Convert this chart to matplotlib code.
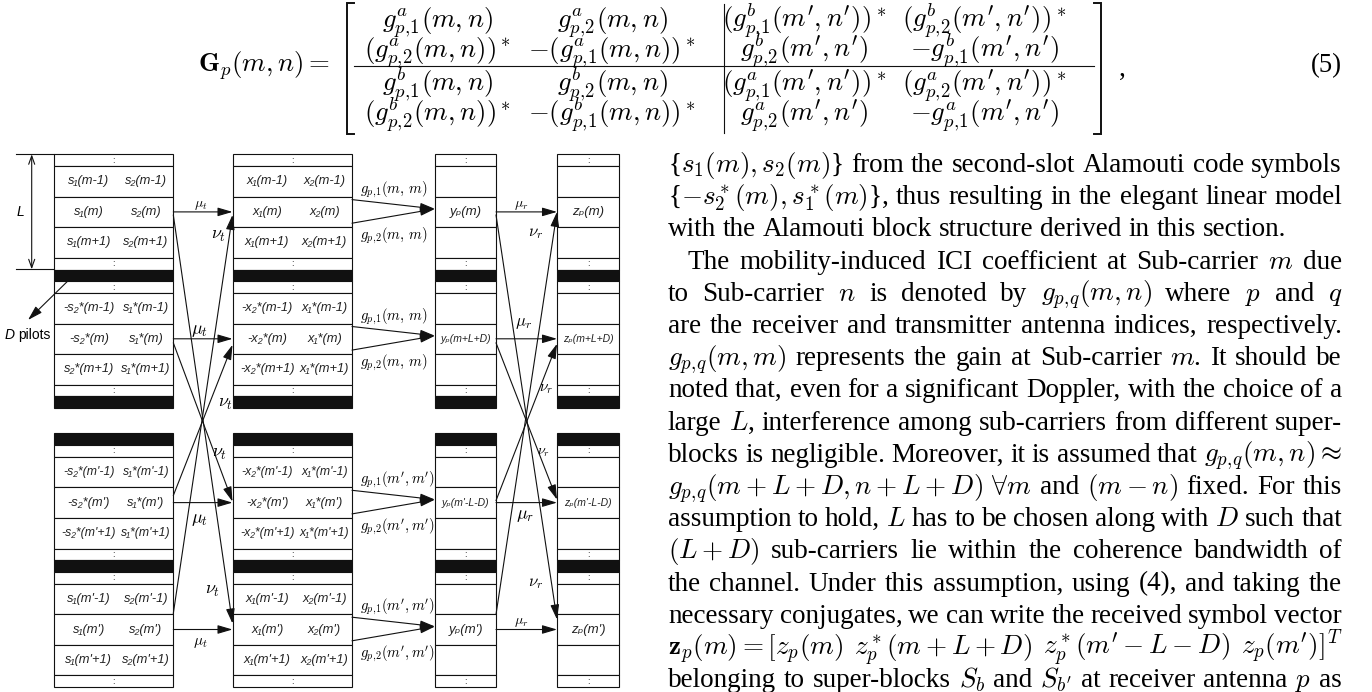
import re
import matplotlib
matplotlib.use("Agg")
import matplotlib.pyplot as plt
from matplotlib.patches import Rectangle

# ---------------- data ----------------
# symbol pairs in the transmitter blocks (top super-block / bottom super-block)
s_left_top = ["s₁(m-1)", "s₁(m)", "s₁(m+1)", "-s₂*(m-1)", "-s₂*(m)", "s₂*(m+1)"]
s_right_top = ["s₂(m-1)", "s₂(m)", "s₂(m+1)", "s₁*(m-1)", "s₁*(m)", "s₁*(m+1)"]
s_left_bot = ["-s₂*(m'-1)", "-s₂*(m')", "-s₂*(m'+1)", "s₁(m'-1)", "s₁(m')", "s₁(m'+1)"]
s_right_bot = ["s₁*(m'-1)", "s₁*(m')", "s₁*(m'+1)", "s₂(m'-1)", "s₂(m')", "s₂(m'+1)"]

x_left_top = ["x₁(m-1)", "x₁(m)", "x₁(m+1)", "-x₂*(m-1)", "-x₂*(m)", "-x₂*(m+1)"]
x_right_top = ["x₂(m-1)", "x₂(m)", "x₂(m+1)", "x₁*(m-1)", "x₁*(m)", "x₁*(m+1)"]
x_left_bot = ["-x₂*(m'-1)", "-x₂*(m')", "-x₂*(m'+1)", "x₁(m'-1)", "x₁(m')", "x₁(m'+1)"]
x_right_bot = ["x₁*(m'-1)", "x₁*(m')", "x₁*(m'+1)", "x₂(m'-1)", "x₂(m')", "x₂(m'+1)"]

y_top = ["", "yₚ(m)", "", "", "yₚ(m+L+D)", ""]
y_bot = ["", "yₚ(m'-L-D)", "", "", "yₚ(m')", ""]
z_top = ["", "zₚ(m)", "", "", "zₚ(m+L+D)", ""]
z_bot = ["", "zₚ(m'-L-D)", "", "", "zₚ(m')", ""]

g_args = [r"(m,\,m)", r"(m,\,m)", r"(m',m')", r"(m',m')"]

# equation (5)
eq_rows = [
    [r"g^a_{p,\!1}(m,n)", r"g^a_{p,\!2}(m,n)", r"(g^b_{p,\!1}(m',n'))^*", r"(g^b_{p,\!2}(m',n'))^*"],
    [r"(g^a_{p,\!2}(m,n))^*", r"-(g^a_{p,\!1}(m,n))^*", r"g^b_{p,\!2}(m',n')", r"-g^b_{p,\!1}(m',n')"],
    [r"g^b_{p,\!1}(m,n)", r"g^b_{p,\!2}(m,n)", r"(g^a_{p,\!1}(m',n'))^*", r"(g^a_{p,\!2}(m',n'))^*"],
    [r"(g^b_{p,\!2}(m,n))^*", r"-(g^b_{p,\!1}(m,n))^*", r"g^a_{p,\!2}(m',n')", r"-g^a_{p,\!1}(m',n')"],
]

# body text of the right column
body = [
    r"{$s_1(m), s_2(m)$} from the second-slot Alamouti code symbols",
    r"{$-s_2^*(m), s_1^*(m)$}, thus resulting in the elegant linear model",
    r"with the Alamouti block structure derived in this section.",
    r"The mobility-induced ICI coefficient at Sub-carrier $m$ due",
    r"to Sub-carrier $n$ is denoted by $g_{p,\!q}(m,n)$ where $p$ and $q$",
    r"are the receiver and transmitter antenna indices, respectively.",
    r"$g_{p,\!q}(m,m)$ represents the gain at Sub-carrier $m$. It should be",
    r"noted that, even for a significant Doppler, with the choice of a",
    r"large $L$, interference among sub-carriers from different super-",
    r"blocks is negligible. Moreover, it is assumed that $g_{p,\!q}(m,n)\approx$",
    r"$g_{p,\!q}(m+L+D,n+L+D)$ $\forall m$ and $(m-n)$ fixed. For this",
    r"assumption to hold, $L$ has to be chosen along with $D$ such that",
    r"$(L+D)$ sub-carriers lie within the coherence bandwidth of",
    r"the channel. Under this assumption, using (4), and taking the",
    r"necessary conjugates, we can write the received symbol vector",
    r"$\mathbf{z}_p(m)=[z_p(m)$ $z_p^*(m+L+D)$ $z_p^*(m'-L-D)$ $z_p(m')]^T$",
    r"belonging to super-blocks $S_b$ and $S_{b'}$ at receiver antenna $p$ as",
]
not_justified = [2]
indented = [3]

# ---------------- canvas ----------------
W, H = 1372, 692
fig = plt.figure(figsize=(W / 100, H / 100), dpi=100)
ax = fig.add_axes([0, 0, 1, 1])
ax.set_xlim(0, W)
ax.set_ylim(H, 0)
ax.axis("off")
renderer = fig.canvas.get_renderer()

SANS = ["Liberation Sans", "DejaVu Sans"]
SERIF = ["Liberation Serif", "DejaVu Serif"]
INK = "#111111"

HGT = {"d": 11.7, "r": 30.6, "b": 11.7}
TOP_KINDS, BOT_KINDS = "drrrdbdrrrdb", "bdrrrdbdrrrd"
TOP_Y0, BOT_Y0 = 154.3, 433.3


def column(x0, x1, y0, kinds, left, right=None):
    rows = []
    y = y0
    for k in kinds:
        h = HGT[k]
        if k == "b":
            ax.add_patch(Rectangle((x0, y), x1 - x0, h, fc=INK, ec=INK, lw=0.8))
        else:
            ax.add_patch(Rectangle((x0, y), x1 - x0, h, fc="white", ec=INK, lw=0.8))
            if k == "d":
                ax.text((x0 + x1) / 2, y + h / 2, ":", ha="center", va="center",
                        fontsize=6.5, color="#333333", family=SANS)
            else:
                rows.append((y, y + h))
        y += h
    for i, (a, b) in enumerate(rows):
        yc = (a + b) / 2
        if right is None:
            if left[i]:
                fs = 9.5 if len(left[i]) < 8 else 7.5
                ax.text((x0 + x1) / 2, yc, left[i], ha="center", va="center",
                        fontsize=fs, style="italic", family=SANS, color="#222222")
        else:
            fs = 9.3 if len(left[i]) + len(right[i]) < 18 else 8.8
            ax.text(x0 + 0.29 * (x1 - x0), yc, left[i], ha="center", va="center",
                    fontsize=fs, style="italic", family=SANS, color="#222222")
            ax.text(x0 + 0.77 * (x1 - x0), yc, right[i], ha="center", va="center",
                    fontsize=fs, style="italic", family=SANS, color="#222222")
    return rows


def arrow(x0, y0, x1, y1):
    ax.annotate("", xy=(x1, y1), xytext=(x0, y0),
                arrowprops=dict(arrowstyle="-|>,head_length=0.75,head_width=0.22",
                                color=INK, lw=0.8, shrinkA=0, shrinkB=0,
                                mutation_scale=12))


def mlabel(x, y, s, fs):
    ax.text(x, y, s, ha="center", va="center", fontsize=fs, math_fontfamily="cm")


# columns: s, x, y, z
C1, C2, C3, C4 = (54.3, 173.3), (232.5, 352), (435, 496), (557, 619)
s_t = column(*C1, TOP_Y0, TOP_KINDS, s_left_top, s_right_top)
s_b = column(*C1, BOT_Y0, BOT_KINDS, s_left_bot, s_right_bot)
x_t = column(*C2, TOP_Y0, TOP_KINDS, x_left_top, x_right_top)
x_b = column(*C2, BOT_Y0, BOT_KINDS, x_left_bot, x_right_bot)
y_t = column(*C3, TOP_Y0, TOP_KINDS, y_top)
y_b = column(*C3, BOT_Y0, BOT_KINDS, y_bot)
z_t = column(*C4, TOP_Y0, TOP_KINDS, z_top)
z_b = column(*C4, BOT_Y0, BOT_KINDS, z_bot)


def cross_stage(xa, xb, top, bot, src_off, dst_off):
    rows = {"t": top, "b": bot}
    cy = lambda g, i: sum(rows[g][i]) / 2
    for g, i in [("t", 1), ("t", 4), ("b", 1), ("b", 4)]:
        arrow(xa, cy(g, i), xb, cy(g, i))
    links = [(("t", 1), ("b", 4)), (("t", 4), ("b", 1)),
             (("b", 1), ("t", 4)), (("b", 4), ("t", 1))]
    for (g, i), (g2, i2) in links:
        arrow(xa, cy(g, i) + src_off[g][i], xb, cy(g2, i2) + dst_off[g2][i2])


cross_stage(C1[1], C2[0], s_t, s_b,
            {"t": {1: 3, 4: 4}, "b": {1: -7, 4: -16}},
            {"t": {1: 3, 4: 6}, "b": {1: -1, 4: -6}})
cross_stage(C3[1], C4[0], y_t, y_b,
            {"t": {1: 3, 4: 4}, "b": {1: -2, 4: -15}},
            {"t": {1: 0, 4: 5}, "b": {1: -3, 4: -10}})

# mu / nu labels
mlabel(201, 205, r"$\mu_t$", 10)
mlabel(219, 235, r"$\nu_t$", 13)
mlabel(200, 330, r"$\mu_t$", 13)
mlabel(226, 403, r"$\nu_t$", 13)
mlabel(220, 453, r"$\nu_t$", 13)
mlabel(200, 519, r"$\mu_t$", 13)
mlabel(213, 590, r"$\nu_t$", 13)
mlabel(200, 642, r"$\mu_t$", 11)
mlabel(521, 205, r"$\mu_r$", 10)
mlabel(536, 232, r"$\nu_r$", 12)
mlabel(524, 322, r"$\mu_r$", 12)
mlabel(546, 388, r"$\nu_r$", 11)
mlabel(544, 452, r"$\nu_r$", 10)
mlabel(525, 515, r"$\mu_r$", 13)
mlabel(536, 582, r"$\nu_r$", 12)
mlabel(521, 622, r"$\mu_r$", 10)

# channel gains g_{p,1}, g_{p,2}
for (a, b), (ya, yb), arg in zip([x_t[1], x_t[4], x_b[1], x_b[4]],
                                 [y_t[1], y_t[4], y_b[1], y_b[4]], g_args):
    yc = (ya + yb) / 2 - 3
    arrow(C2[1], a + 3, C3[0], yc)
    arrow(C2[1], b - 4, C3[0], yc)
    ax.text(360, a - 7, r"$g_{p,\!1}%s$" % arg, ha="left", va="center",
            fontsize=10.5, math_fontfamily="cm")
    ax.text(360, b + 9, r"$g_{p,\!2}%s$" % arg, ha="left", va="center",
            fontsize=10.5, math_fontfamily="cm")

# L bracket and D pilots
ax.plot([16, C1[0]], [TOP_Y0, TOP_Y0], color=INK, lw=0.8)
ax.plot([16, C1[0]], [269.3, 269.3], color=INK, lw=0.8)
ax.annotate("", xy=(31.7, TOP_Y0), xytext=(31.7, 269.3),
            arrowprops=dict(arrowstyle="<->,head_length=0.5,head_width=0.18",
                            color=INK, lw=0.8, shrinkA=0, shrinkB=0, mutation_scale=12))
ax.text(20, 212, "L", ha="center", va="center", fontsize=10, style="italic", family=SANS)
arrow(77, 272, 28, 320)
ax.text(15, 335, "D", ha="right", va="center", fontsize=10, style="italic", family=SANS)
ax.text(18, 335, "pilots", ha="left", va="center", fontsize=10, family=SANS)

# ---------------- equation (5) ----------------
EQ_FS = 19.3
col_x = [437, 612, 804, 984]
row_base = [27, 57, 91, 121]
for row, yb in zip(eq_rows, row_base):
    for cell, xc in zip(row, col_x):
        ax.text(xc, yb, "$%s$" % cell, ha="center", va="baseline",
                fontsize=EQ_FS, math_fontfamily="cm")
ax.text(330, 72, r"$\mathbf{G}_p(m,n) =$", ha="right", va="baseline",
        fontsize=EQ_FS, math_fontfamily="cm")
# brackets, rules
for xb, d in [(347, 1), (1101, -1)]:
    ax.plot([xb + 7 * d, xb, xb, xb + 7 * d], [3, 3, 134, 134], color=INK, lw=1.4,
            solid_joinstyle="miter")
ax.plot([354, 1094], [66, 66], color=INK, lw=0.8)
ax.plot([724, 724], [4, 133], color=INK, lw=0.8)
ax.text(1122, 76, ",", ha="center", va="baseline", fontsize=EQ_FS, family=SERIF)
ax.text(1342, 72, "(5)", ha="right", va="baseline", fontsize=EQ_FS, family=SERIF)

# ---------------- justified body text ----------------
TX0, TX1 = 668, 1342
TFS = 19.5
base0, step = 172, 32.2
space_w = TFS * 100 / 72 * 0.25
for k, line in enumerate(body):
    yb = base0 + k * step
    x0 = TX0 + (19 if k in indented else 0)
    toks = re.findall(r"(?:\$[^$]*\$|[^\s$])+", line)
    objs = [ax.text(0, yb, t, ha="left", va="baseline", fontsize=TFS,
                    family=SERIF, math_fontfamily="cm") for t in toks]
    widths = [o.get_window_extent(renderer).width for o in objs]
    if k in not_justified or len(toks) < 2:
        gap = space_w
    else:
        gap = (TX1 - x0 - sum(widths)) / (len(toks) - 1)
    x = x0
    for o, w in zip(objs, widths):
        o.set_x(x)
        x += w + gap

fig.savefig("out.png", dpi=100)
